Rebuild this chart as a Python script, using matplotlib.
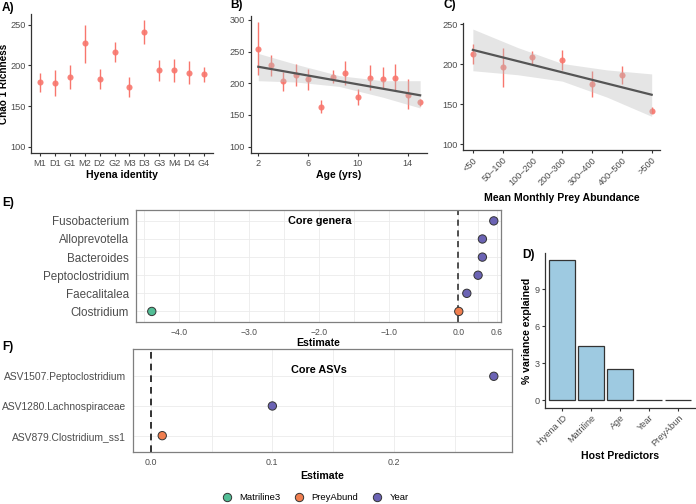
import numpy as np
import matplotlib
matplotlib.use("Agg")
import matplotlib.pyplot as plt
from matplotlib.lines import Line2D

plt.rcParams['font.family'] = ['Liberation Sans', 'DejaVu Sans']

# A) richness by hyena identity
hyena_ids = ['M1', 'D1', 'G1', 'M2', 'D2', 'G2', 'M3', 'D3', 'G3', 'M4', 'D4', 'G4']
hyena_mean = [179, 178, 186, 227, 183, 217, 174, 241, 194, 194, 191, 189]
hyena_lo = [167, 162, 171, 203, 171, 204, 161, 226, 181, 179, 177, 180]
hyena_hi = [191, 194, 200, 250, 195, 229, 186, 256, 207, 208, 205, 198]

# B) richness by age
ages = [2, 3, 4, 5, 6, 7, 8, 9, 10, 11, 12, 13, 14, 15]
age_mean = [254, 228, 203, 213, 206, 163, 210, 216, 178, 209, 207, 209, 182, 170]
age_lo = [213, 212, 187, 196, 189, 153, 200, 198, 166, 190, 192, 189, 159, 164]
age_hi = [297, 244, 218, 230, 222, 174, 221, 235, 191, 228, 225, 231, 206, 175]
age_fit_x = [2, 15]
age_fit_y = [226, 181]
age_band_x = [2, 5, 8.5, 12, 15]
age_band_lo = [204, 202, 195, 178, 161]
age_band_hi = [247, 230, 212, 204, 204]

# C) richness by prey abundance
prey_cats = ['<50', '50–100', '100–200', '200–300', '300–400', '400–500', '>500']
prey_mean = [213, 197, 209, 206, 175, 187, 142]
prey_lo = [200, 172, 201, 193, 159, 175, 139]
prey_hi = [225, 220, 217, 218, 192, 198, 147]
prey_fit_x = [0, 6]
prey_fit_y = [218, 162]
prey_band_x = [0, 1.5, 3, 4.5, 6]
prey_band_lo = [192, 187, 179, 159, 135]
prey_band_hi = [244, 221, 201, 193, 188]

# D) variance explained
predictors = ['Hyena ID', 'Matriline', 'Age', 'Year', 'PreyAbun']
var_explained = [11.35, 4.38, 2.54, 0.02, 0.02]

# E) core genera
genera = ['Clostridium', 'Faecalitalea', 'Peptoclostridium', 'Bacteroides', 'Alloprevotella', 'Fusobacterium']
genera_est = [-4.39, 0.005, 0.12, 0.281, 0.343, 0.343, 0.506]
genera_row = [0, 0, 1, 2, 3, 4, 5]
genera_term = ['Matriline3', 'PreyAbund', 'Year', 'Year', 'Year', 'Year', 'Year']

# F) core ASVs
asvs = ['ASV879.Clostridium_ss1', 'ASV1280.Lachnospiraceae', 'ASV1507.Peptoclostridium']
asv_est = [0.0095, 0.1, 0.282]
asv_term = ['PreyAbund', 'Year', 'Year']

term_colors = {'Matriline3': '#52BE96', 'PreyAbund': '#F07E4F', 'Year': '#6B63B4'}
salmon = '#F8766D'
tick_col = '#4D4D4D'

fig = plt.figure(figsize=(6.96, 5.04), dpi=100)


def classic(ax):
    for s in ['top', 'right']:
        ax.spines[s].set_visible(False)
    for s in ['left', 'bottom']:
        ax.spines[s].set_color('#333333')
        ax.spines[s].set_linewidth(0.9)
    ax.tick_params(colors='#333333', labelcolor=tick_col, labelsize=6.6, length=2.5, width=0.8, pad=1.5)


def boxed(ax):
    for s in ax.spines.values():
        ax.spines[s.spine_type].set_color('#7F7F7F')
        ax.spines[s.spine_type].set_linewidth(0.9)
    ax.tick_params(length=0, labelcolor=tick_col)
    ax.grid(True, which='both', color='#EBEBEB', lw=0.6)
    ax.set_axisbelow(True)


def points(ax, x, m, lo, hi):
    m = np.array(m)
    yerr = [m - np.array(lo), np.array(hi) - m]
    ax.errorbar(x, m, yerr=yerr, fmt='none', ecolor=salmon, elinewidth=1.0, capsize=0, zorder=2)
    ax.plot(x, m, 'o', color=salmon, ms=4.4, alpha=0.9, mec='none', zorder=3)


# A
axA = fig.add_axes([0.0445, 0.6964, 0.2615, 0.2758])
classic(axA)
points(axA, np.arange(len(hyena_ids)), hyena_mean, hyena_lo, hyena_hi)
axA.set_xticks(np.arange(len(hyena_ids)))
axA.set_xticklabels(hyena_ids)
axA.set_xlim(-0.6, 11.6)
axA.set_ylim(92.5, 263)
axA.set_yticks([100, 150, 200, 250])
axA.set_xlabel('Hyena identity', fontsize=7.6, fontweight='bold', labelpad=2)
axA.set_ylabel('Chao 1 Richness', fontsize=7.2, fontweight='bold')
axA.yaxis.set_label_coords(-0.118, 0.5)

# B
axB = fig.add_axes([0.3602, 0.6964, 0.2533, 0.2718])
classic(axB)
points(axB, ages, age_mean, age_lo, age_hi)
axB.fill_between(age_band_x, age_band_lo, age_band_hi, color='#BEBEBE', alpha=0.4, lw=0, zorder=4)
axB.plot(age_fit_x, age_fit_y, color='#555555', lw=1.6, zorder=5)
axB.set_xlim(1.39, 15.55)
axB.set_ylim(90, 306)
axB.set_xticks([2, 6, 10, 14])
axB.set_yticks([100, 150, 200, 250, 300])
axB.set_xlabel('Age (yrs)', fontsize=7.6, fontweight='bold', labelpad=2)

# C
axC = fig.add_axes([0.6657, 0.7024, 0.2826, 0.2526])
classic(axC)
xc = np.arange(len(prey_cats))
points(axC, xc, prey_mean, prey_lo, prey_hi)
axC.fill_between(prey_band_x, prey_band_lo, prey_band_hi, color='#BEBEBE', alpha=0.4, lw=0, zorder=4)
axC.plot(prey_fit_x, prey_fit_y, color='#555555', lw=1.6, zorder=5)
axC.set_xlim(-0.32, 6.28)
axC.set_ylim(93, 252)
axC.set_xticks(xc)
axC.set_xticklabels(prey_cats, rotation=45, ha='right', rotation_mode='anchor')
axC.set_yticks([100, 150, 200, 250])
axC.set_xlabel('Mean Monthly Prey Abundance', fontsize=7.6, fontweight='bold', labelpad=4)

# D
axD = fig.add_axes([0.783, 0.1911, 0.2165, 0.3063])
classic(axD)
xd = np.arange(len(predictors))
axD.bar(xd, var_explained, width=0.9, color='#9ECAE1', edgecolor='#333333', lw=0.9)
axD.set_xlim(-0.6, 4.6)
axD.set_ylim(-0.6, 11.92)
axD.set_yticks([0, 3, 6, 9])
axD.set_xticks(xd)
axD.set_xticklabels(predictors, rotation=45, ha='right', rotation_mode='anchor')
axD.set_xlabel('Host Predictors', fontsize=7.6, fontweight='bold', labelpad=2)
axD.set_ylabel('% variance explained', fontsize=7.6, fontweight='bold')
axD.yaxis.set_label_coords(-0.088, 0.5)

# E
axE = fig.add_axes([0.195, 0.3605, 0.5249, 0.2228])
boxed(axE)
axE.axvline(0, color='#222222', ls=(0, (4, 3)), lw=1.1, zorder=2)
axE.scatter(genera_est, genera_row, s=36, c=[term_colors[t] for t in genera_term],
            edgecolors='#333333', linewidths=0.7, zorder=3)
axE.set_xlim(-4.62, 0.61)
axE.set_ylim(-0.6, 5.6)
axE.set_yticks(range(len(genera)))
axE.set_yticklabels(genera, fontsize=8.4)
axE.set_xticks([-4, -3, -2, -1, 0, 0.55])
axE.set_xticklabels(['−4.0', '−3.0', '−2.0', '−1.0', '0.0', '0.6'], fontsize=6.2)
axE.set_xticks([-4.5, -3.5, -2.5, -1.5, -0.5, 0.275], minor=True)
axE.tick_params(which='minor', length=0)
axE.tick_params(axis='y', pad=5)
axE.tick_params(axis='x', pad=4)
axE.text(-1.98, 5, 'Core genera', fontsize=7.8, fontweight='bold', ha='center', va='center')
axE.set_xlabel('Estimate', fontsize=7.6, fontweight='bold', labelpad=1)

# F
axF = fig.add_axes([0.1915, 0.1026, 0.5437, 0.205])
boxed(axF)
axF.axvline(0, color='#111111', ls=(0, (4, 3)), lw=1.2, zorder=2)
axF.scatter(asv_est, range(len(asvs)), s=36, c=[term_colors[t] for t in asv_term],
            edgecolors='#333333', linewidths=0.7, zorder=3)
axF.set_xlim(-0.0143, 0.2967)
axF.set_ylim(-0.56, 2.92)
axF.set_yticks(range(len(asvs)))
axF.set_yticklabels(asvs, fontsize=7.4)
axF.set_xticks([0.0, 0.1, 0.2])
axF.set_xticklabels(['0.0', '0.1', '0.2'], fontsize=6.4)
axF.set_xticks([0.05, 0.15, 0.25], minor=True)
axF.tick_params(which='minor', length=0)
axF.tick_params(axis='y', pad=5)
axF.tick_params(axis='x', pad=4)
axF.text(0.138, 2.21, 'Core ASVs', fontsize=7.8, fontweight='bold', ha='center', va='center')
axF.set_xlabel('Estimate', fontsize=7.6, fontweight='bold', labelpad=3)

# legend
handles = [Line2D([], [], marker='o', ls='none', ms=6, mfc=term_colors[t], mec='#333333', mew=0.7)
           for t in term_colors]
fig.legend(handles, list(term_colors), loc='center', bbox_to_anchor=(0.45, 0.013), ncol=3,
           frameon=False, fontsize=6.8, handletextpad=0.3, columnspacing=1.0, borderaxespad=0)

# panel labels
for lab, x, y in [('A)', 0.003, 0.985), ('B)', 0.331, 0.99), ('C)', 0.637, 0.99),
                  ('E)', 0.003, 0.597), ('F)', 0.003, 0.312), ('D)', 0.751, 0.494)]:
    fig.text(x, y, lab, fontsize=8.6, fontweight='bold', va='center', ha='left')

fig.savefig('out.png', dpi=100)
